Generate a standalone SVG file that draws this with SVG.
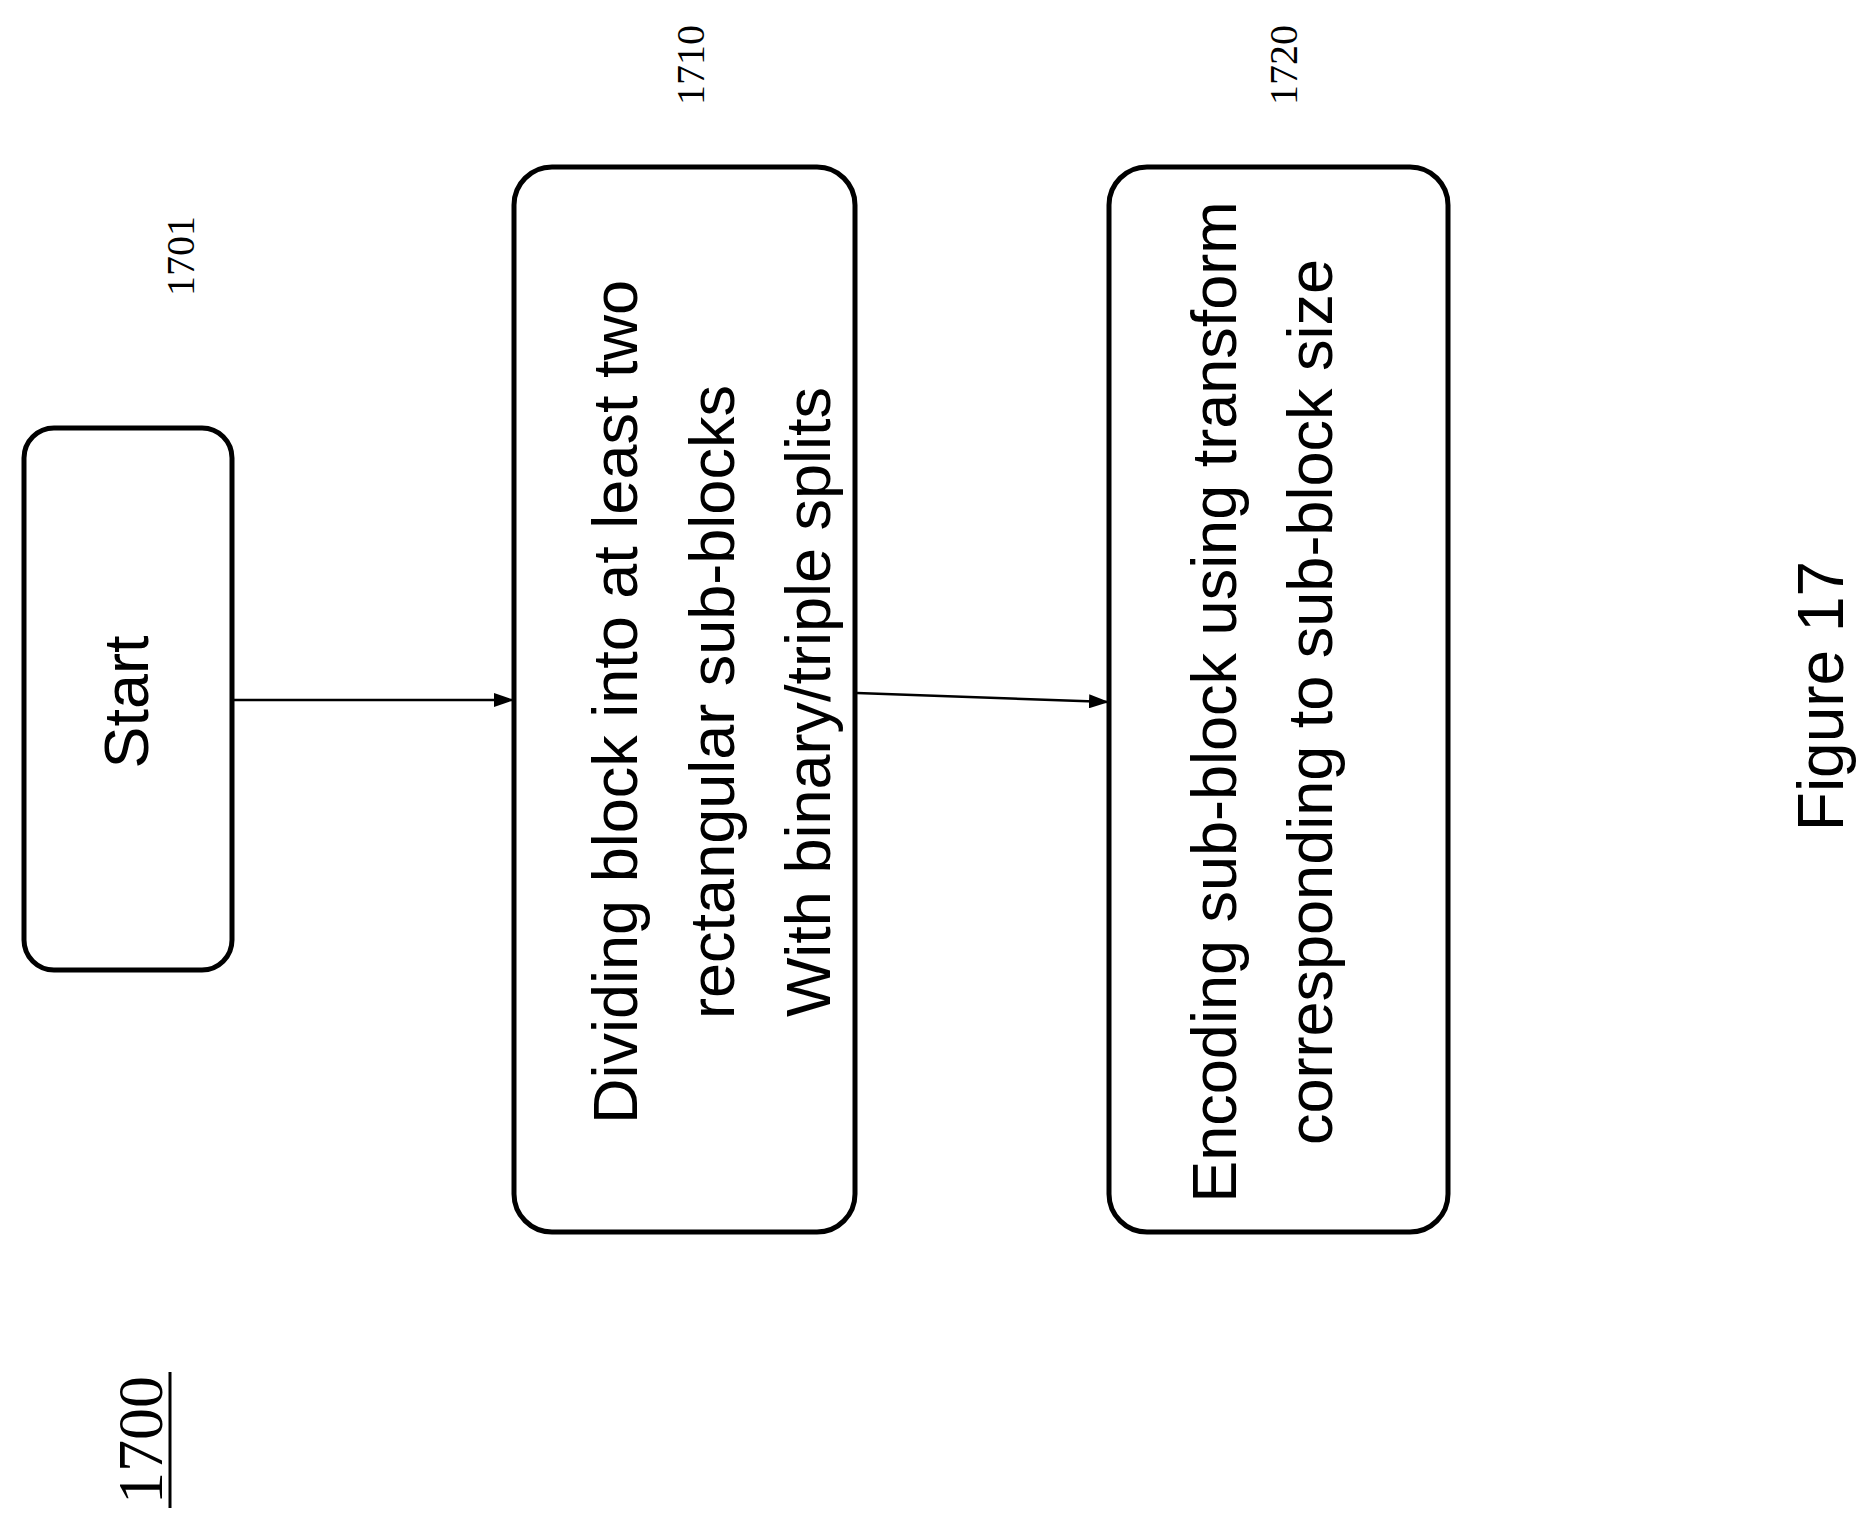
<svg xmlns="http://www.w3.org/2000/svg" width="1857" height="1522" viewBox="0 0 1857 1522">
<defs>
<marker id="ah" viewBox="0 0 20 14" refX="20" refY="7" markerWidth="20" markerHeight="14" markerUnits="userSpaceOnUse" orient="auto"><path d="M0,0 L20,7 L0,14 z" fill="#000"/></marker>
<style>
.box{fill:#fff;stroke:#000;stroke-width:5}
.t{font-family:"Liberation Sans",Arial,sans-serif;font-size:63px;text-anchor:middle;dominant-baseline:central}
.n{font-family:"Liberation Serif","Times New Roman",serif;font-size:40px;text-anchor:middle;dominant-baseline:central}
.c{stroke:#000;stroke-width:2.5;fill:none;marker-end:url(#ah)}
</style>
</defs>
<rect width="1857" height="1522" fill="#fff"/>
<g id="n1701">
<rect class="box" x="24" y="428" width="208" height="542" rx="30"/>
<text class="t" transform="translate(126,702) rotate(-90)">Start</text>
<text class="n" transform="translate(180,256) rotate(-90)">1701</text>
</g>
<g id="n1710">
<rect class="box" x="514" y="167" width="341" height="1065" rx="38"/>
<text class="t" transform="translate(615,702) rotate(-90)">Dividing block into at least two</text>
<text class="t" transform="translate(712,702) rotate(-90)">rectangular sub-blocks</text>
<text class="t" transform="translate(808,702) rotate(-90)">With binary/triple splits</text>
<text class="n" transform="translate(690,65) rotate(-90)">1710</text>
</g>
<g id="n1720">
<rect class="box" x="1109" y="167" width="339" height="1065" rx="38"/>
<text class="t" transform="translate(1214,702) rotate(-90)">Encoding sub-block using transform</text>
<text class="t" transform="translate(1310,702) rotate(-90)">corresponding to sub-block size</text>
<text class="n" transform="translate(1283,65) rotate(-90)">1720</text>
</g>
<g id="connectors">
<line class="c" x1="234" y1="700" x2="514" y2="700"/>
<line class="c" x1="857" y1="693" x2="1109" y2="702"/>
</g>
<g id="labels">
<text class="n" style="font-size:64px" transform="translate(140,1440) rotate(-90)">1700</text>
<line x1="170" y1="1372" x2="170" y2="1508" stroke="#000" stroke-width="3"/>
<text class="t" style="font-size:64px" transform="translate(1821,696) rotate(-90)">Figure 17</text>
</g>
</svg>
